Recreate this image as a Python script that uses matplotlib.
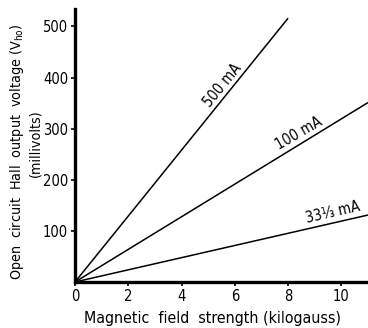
import matplotlib
matplotlib.use("Agg")
import matplotlib.pyplot as plt

plt.rcParams['font.family'] = ['DejaVu Sans']
plt.rcParams['font.stretch'] = 'condensed'

# Hall output voltage (mV) at the ends of each drawn line
currents = ["500 mA", "100 mA", "33⅓ mA"]
field_start = [0.0, 0.0, 0.0]
volt_start = [0.0, 0.0, 0.0]
field_end = [8.0, 11.0, 11.0]
volt_end = [516.0, 351.0, 131.0]

# where each current label sits along its line (kilogauss) and its angle
label_x = [5.75, 8.55, 9.75]
label_rot = [51, 30, 13]

xticks = [0, 2, 4, 6, 8, 10]
yticks = [100, 200, 300, 400, 500]

fig = plt.figure(figsize=(3.68, 3.28), dpi=100)
ax = fig.add_axes([75/368, 46/328, 1 - 75/368, (282-9)/328])

for i, name in enumerate(currents):
    ax.plot([field_start[i], field_end[i]], [volt_start[i], volt_end[i]],
            color='black', lw=1.1, solid_capstyle='butt')
    slope = (volt_end[i] - volt_start[i]) / (field_end[i] - field_start[i])
    ly = volt_start[i] + slope * (label_x[i] - field_start[i])
    ax.annotate(name, (label_x[i], ly), xytext=(0, 2), textcoords='offset points',
                rotation=label_rot[i], rotation_mode='anchor',
                ha='center', va='bottom', fontsize=10.5, color='black')

ax.set_xlim(0, 11.0)
ax.set_ylim(0, 534)
ax.set_xticks(xticks)
ax.set_yticks(yticks)
ax.set_xticklabels([str(v) for v in xticks])
ax.set_yticklabels([str(v) for v in yticks])
ax.tick_params(axis='both', direction='out', length=3, width=1.2,
               labelsize=10.5, colors='black', pad=2)

for s in ['top', 'right']:
    ax.spines[s].set_visible(False)
for s in ['left', 'bottom']:
    ax.spines[s].set_linewidth(2.4)
    ax.spines[s].set_color('black')

fig.text(213/368, 1 - 318/328, "Magnetic  field  strength (kilogauss)",
         ha='center', va='center', fontsize=11.4)
fig.text(17/368, 1 - 152/328, r"Open  circuit  Hall  output  voltage (V$_{\mathrm{ho}}$)",
         ha='center', va='center', rotation=90, fontsize=10.3)
fig.text(35/368, 1 - 143/328, "(millivolts)",
         ha='center', va='center', rotation=90, fontsize=10.3)

fig.savefig("out.png", dpi=100)
